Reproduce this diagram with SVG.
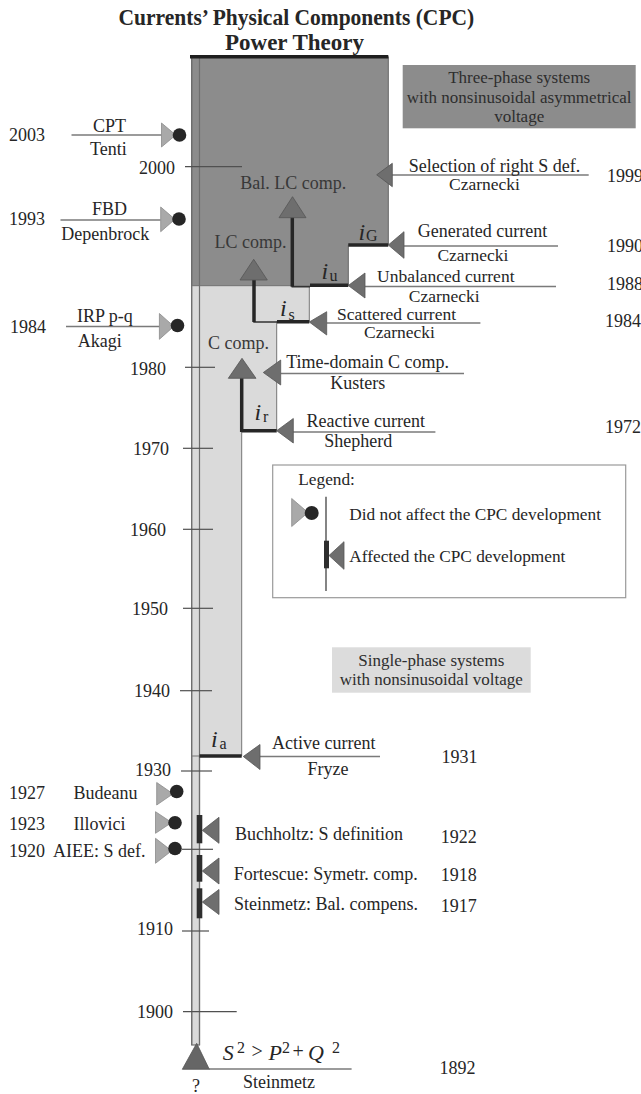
<svg xmlns="http://www.w3.org/2000/svg" width="641" height="1094" viewBox="0 0 641 1094">
<defs>
<style>
text{font-family:"Liberation Serif","Times New Roman",serif;fill:#262626}
.t{font-size:18px}
.c{font-size:17.5px}
.ttl{font-size:23px;font-weight:bold}
.box{font-size:17px;fill:#2e2e2e}
.lg{font-size:17.3px}
.cmp{font-size:18px;fill:#383838}
.i{font-size:24px;font-style:italic}
.sub{font-size:16px}
.it{font-style:italic}
.tk{stroke:#505050;stroke-width:1.2}
.ln{stroke:#7a7a7a;stroke-width:1.5}
.arr{fill:#6e6e6e;stroke:#555;stroke-width:0.8}
.cur{stroke:#262626;stroke-width:3.5;fill:none}
.thin{stroke:#333;stroke-width:1.5;fill:none}
.na{fill:#a9a9a9;stroke:#8a8a8a;stroke-width:0.8}
.dot{fill:#262626}
.bar{fill:#2e2e2e}
</style>
</defs>
<rect width="641" height="1094" fill="#ffffff"/>

<g id="title">
<text class="ttl" x="118.6" y="25" textLength="355.6" lengthAdjust="spacingAndGlyphs">Currents’ Physical Components (CPC)</text>
<text class="ttl" x="294.5" y="50" text-anchor="middle">Power Theory</text>
</g>

<g id="regions">
<rect x="191.7" y="57" width="7.8" height="988" fill="#d9d9d9" stroke="#6e6e6e" stroke-width="1.2"/>
<polygon points="191.7,56.7 388.3,56.7 388.3,245 348.3,245 348.3,285.7 191.7,285.7" fill="#8c8c8c" stroke="#666" stroke-width="1"/>
<polygon points="191.7,285.7 309.3,285.7 309.3,321.7 276.7,321.7 276.7,430.7 241.7,430.7 241.7,756 191.7,756" fill="#dadada" stroke="#777" stroke-width="1"/>
<line x1="191.7" y1="57" x2="191.7" y2="1045" stroke="#6e6e6e" stroke-width="1.2"/>
<line x1="199.5" y1="57" x2="199.5" y2="1045" stroke="#6e6e6e" stroke-width="1.2"/>
<line x1="190" y1="56.7" x2="388.3" y2="56.7" stroke="#1e1e1e" stroke-width="3.5"/>
</g>

<g id="axis">
<line class="tk" x1="185" y1="166.7" x2="242" y2="166.7"/>
<text class="t" x="139" y="174">2000</text>
<line class="tk" x1="185" y1="367.3" x2="215" y2="367.3"/>
<text class="t" x="130" y="375">1980</text>
<line class="tk" x1="183" y1="448.3" x2="213" y2="448.3"/>
<text class="t" x="133" y="455">1970</text>
<line class="tk" x1="183" y1="529.3" x2="213" y2="529.3"/>
<text class="t" x="130" y="536">1960</text>
<line class="tk" x1="183" y1="608.3" x2="213" y2="608.3"/>
<text class="t" x="132" y="615">1950</text>
<line class="tk" x1="180" y1="690.7" x2="212" y2="690.7"/>
<text class="t" x="134" y="697">1940</text>
<line class="tk" x1="181" y1="771" x2="212" y2="771"/>
<text class="t" x="135" y="776">1930</text>
<line class="tk" x1="182" y1="849.3" x2="213" y2="849.3"/>
<line class="tk" x1="182" y1="931" x2="209" y2="931"/>
<text class="t" x="137" y="935">1910</text>
<line class="tk" x1="183" y1="1011.7" x2="236.7" y2="1011.7"/>
<text class="t" x="137" y="1018">1900</text>
</g>

<g id="three-phase-box">
<rect x="402.7" y="65" width="233" height="63.3" fill="#8c8c8c"/>
<text class="box" x="519.2" y="83" text-anchor="middle">Three-phase systems</text>
<text class="box" x="519.2" y="103" text-anchor="middle">with nonsinusoidal asymmetrical</text>
<text class="box" x="519.2" y="122" text-anchor="middle">voltage</text>
</g>

<g id="single-phase-box">
<rect x="332" y="647.3" width="198.7" height="45.4" fill="#dcdcdc"/>
<text class="box" x="431.3" y="666" text-anchor="middle">Single-phase systems</text>
<text class="box" x="431.3" y="685" text-anchor="middle">with nonsinusoidal voltage</text>
</g>

<g id="connectors">
<polyline class="thin" points="292.3,217 292.3,286.7 310,286.7"/>
<polyline class="thin" points="254,280 254,322 277,322"/>
<line class="thin" x1="241.7" y1="378" x2="241.7" y2="430.7"/>
<line x1="292.3" y1="217" x2="292.3" y2="286.7" stroke="#262626" stroke-width="3.5"/>
<line x1="254" y1="280" x2="254" y2="322" stroke="#262626" stroke-width="3.5"/>
<line x1="241.7" y1="378" x2="241.7" y2="432" stroke="#262626" stroke-width="3.5"/>
<line class="cur" x1="348.3" y1="245" x2="388.3" y2="245"/>
<line class="cur" x1="310" y1="285.3" x2="348.3" y2="285.3"/>
<line class="cur" x1="277" y1="321.7" x2="309.3" y2="321.7"/>
<line class="cur" x1="241.7" y1="430.7" x2="276.7" y2="430.7"/>
<line class="cur" x1="199.5" y1="756" x2="241.7" y2="756"/>
<line class="ln" x1="392" y1="175" x2="588.7" y2="175"/>
<line class="ln" x1="404" y1="246" x2="558" y2="246"/>
<line class="ln" x1="365" y1="286.5" x2="556" y2="286.5"/>
<line class="ln" x1="326.7" y1="323" x2="480.4" y2="323"/>
<line class="ln" x1="280.7" y1="373.5" x2="464" y2="373.5"/>
<line class="ln" x1="293" y1="432" x2="435.4" y2="432"/>
<line class="ln" x1="260" y1="756.5" x2="380" y2="756.5"/>
<line class="ln" x1="71.5" y1="135" x2="161.5" y2="135"/>
<line class="ln" x1="60.5" y1="220" x2="160.7" y2="220"/>
<line class="ln" x1="66" y1="326.5" x2="159.4" y2="326.5"/>
<line class="ln" x1="209" y1="1069" x2="351.6" y2="1069"/>
</g>

<g id="bal-lc-comp">
<polygon class="arr" points="279,217.7 306,217.7 292.5,196.7"/>
<text class="cmp" x="293.3" y="189.3" text-anchor="middle">Bal. LC comp.</text>
</g>
<g id="lc-comp">
<polygon class="arr" points="240,280 267.3,280 253.7,259.3"/>
<text class="cmp" x="250.5" y="248.3" text-anchor="middle">LC comp.</text>
</g>
<g id="c-comp">
<polygon class="arr" points="228.3,378.3 256,378.3 242,358.3"/>
<text class="cmp" x="238.6" y="349.3" text-anchor="middle">C comp.</text>
</g>

<g id="iG-label"><text class="i" x="358.5" y="240">i</text><text class="sub" x="366" y="241">G</text></g>
<g id="iu-label"><text class="i" x="321.5" y="278.5">i</text><text class="sub" x="329.5" y="280.5">u</text></g>
<g id="is-label"><text class="i" x="280" y="315.5">i</text><text class="sub" x="288.5" y="320">s</text></g>
<g id="ir-label"><text class="i" x="254.5" y="420">i</text><text class="sub" x="263" y="421.7">r</text></g>
<g id="ia-label"><text class="i" x="211" y="746.5">i</text><text class="sub" x="219.5" y="748.5">a</text></g>

<g id="selection">
<polygon class="arr" points="392.3,163.3 392.3,186.7 376.7,174.8"/>
<text class="t" x="408.8" y="171.7">Selection of right S def.</text>
<text class="c" x="449" y="190">Czarnecki</text>
<text class="t" x="607" y="181.7">1999</text>
</g>
<g id="generated">
<polygon class="arr" points="404,231.7 404,258.3 388.3,245"/>
<text class="t" x="417.8" y="236.7">Generated current</text>
<text class="c" x="437.4" y="261">Czarnecki</text>
<text class="t" x="607" y="251.7">1990</text>
</g>
<g id="unbalanced">
<polygon class="arr" points="365,273 365,298 348.3,285.5"/>
<text class="c" x="377" y="281.5">Unbalanced current</text>
<text class="c" x="408.8" y="301.5">Czarnecki</text>
<text class="t" x="607" y="290">1988</text>
</g>
<g id="scattered">
<polygon class="arr" points="326.7,311.7 326.7,335 309.3,322"/>
<text class="c" x="337" y="320">Scattered current</text>
<text class="c" x="364" y="338.3">Czarnecki</text>
<text class="t" x="605" y="326.7">1984</text>
</g>
<g id="time-domain">
<polygon class="arr" points="280.7,360 280.7,385 263.3,372.5"/>
<text class="t" x="286.2" y="368.3">Time-domain C comp.</text>
<text class="t" x="330.3" y="389">Kusters</text>
</g>
<g id="reactive">
<polygon class="arr" points="293.3,418.5 293.3,443 276.7,430.7"/>
<text class="t" x="306.6" y="426.7">Reactive current</text>
<text class="t" x="324.2" y="446.7">Shepherd</text>
<text class="t" x="605" y="433.3">1972</text>
</g>
<g id="active">
<polygon class="arr" points="260,744.5 260,769.5 243.3,756.5"/>
<text class="t" x="272" y="749">Active current</text>
<text class="t" x="307.4" y="775">Fryze</text>
<text class="t" x="441.5" y="763.3">1931</text>
</g>

<g id="cpt">
<polygon class="na" points="161.5,123 161.5,147 175.8,135"/>
<circle class="dot" cx="179.5" cy="135" r="6.8"/>
<text class="t" x="93" y="132">CPT</text>
<text class="t" x="90" y="155">Tenti</text>
<text class="t" x="9" y="141">2003</text>
</g>
<g id="fbd">
<polygon class="na" points="160.7,207 160.7,231.7 175,219.3"/>
<circle class="dot" cx="179" cy="219" r="6.8"/>
<text class="t" x="92" y="215">FBD</text>
<text class="t" x="61.3" y="240">Depenbrock</text>
<text class="t" x="9" y="225">1993</text>
</g>
<g id="irp">
<polygon class="na" points="159.4,313.5 159.4,339.3 173.8,326.4"/>
<circle class="dot" cx="177.5" cy="325.5" r="6.8"/>
<text class="t" x="77" y="321.7">IRP p-q</text>
<text class="t" x="77.7" y="346.7">Akagi</text>
<text class="t" x="10" y="333.3">1984</text>
</g>
<g id="budeanu">
<polygon class="na" points="156.7,782.5 156.7,805 173,793.8"/>
<circle class="dot" cx="176.7" cy="791.5" r="6.8"/>
<text class="t" x="73.6" y="799">Budeanu</text>
<text class="t" x="9" y="799">1927</text>
</g>
<g id="illovici">
<polygon class="na" points="155.5,811.7 155.5,833.3 171.7,822.5"/>
<circle class="dot" cx="175" cy="822.7" r="6.8"/>
<text class="t" x="73.6" y="830">Illovici</text>
<text class="t" x="9" y="830">1923</text>
</g>
<g id="aiee">
<polygon class="na" points="155.5,838.3 155.5,863.3 171.7,850.8"/>
<circle class="dot" cx="175" cy="848.5" r="6.8"/>
<text class="t" x="53" y="857">AIEE: S def.</text>
<text class="t" x="9" y="857">1920</text>
</g>

<g id="buchholtz">
<rect class="bar" x="196.7" y="815" width="5.6" height="28.3"/>
<polygon class="arr" points="219,817.3 219,843.3 202.3,830.3"/>
<text class="t" x="235" y="840">Buchholtz:  S definition</text>
<text class="t" x="440.7" y="842.7">1922</text>
</g>
<g id="fortescue">
<rect class="bar" x="196.7" y="855" width="5.6" height="26.7"/>
<polygon class="arr" points="219,858 219,884 202.3,871"/>
<text class="t" x="233.8" y="880">Fortescue:  Symetr. comp.</text>
<text class="t" x="440.7" y="880.7">1918</text>
</g>
<g id="steinmetz-bal">
<rect class="bar" x="196.7" y="888.3" width="5.6" height="30"/>
<polygon class="arr" points="219,889.5 219,914.5 202.3,902"/>
<text class="t" x="234" y="910">Steinmetz: Bal. compens.</text>
<text class="t" x="440.7" y="911.7">1917</text>
</g>

<g id="steinmetz-1892">
<polygon points="182.3,1069.3 209.3,1069.3 196.7,1043.3" fill="#666" stroke="#555" stroke-width="0.8"/>
<text class="t" x="222.8" y="1060"><tspan class="it" font-size="22">S</tspan><tspan font-size="16" x="237" dy="-7">2</tspan><tspan font-size="20" x="251.5" dy="5">&gt;</tspan><tspan class="it" font-size="22" x="268.5" dy="2">P</tspan><tspan font-size="16" x="282" dy="-7">2</tspan><tspan font-size="20" x="292.5" dy="5">+</tspan><tspan class="it" font-size="22" x="308" dy="2">Q</tspan><tspan font-size="16" x="332" dy="-7">2</tspan></text>
<text class="t" x="192" y="1091.7">?</text>
<text class="t" x="243" y="1088.3" font-size="17">Steinmetz</text>
<text class="t" x="439.5" y="1074">1892</text>
</g>

<g id="legend">
<rect x="272.7" y="465" width="353" height="132.7" fill="#ffffff" stroke="#9a9a9a" stroke-width="1.2"/>
<text class="lg" x="298.3" y="485">Legend:</text>
<line x1="326" y1="496.7" x2="326" y2="591" stroke="#333" stroke-width="1.2"/>
<polygon class="na" points="291.7,498.5 291.7,526.5 308,512.5"/>
<circle class="dot" cx="311.7" cy="513" r="7"/>
<text class="lg" x="349.3" y="520">Did not affect the CPC development</text>
<rect class="bar" x="324" y="540.7" width="5" height="27.6"/>
<polygon class="arr" points="344,541.7 344,569.3 329,555.5"/>
<text class="lg" x="349.3" y="561.7">Affected the CPC development</text>
</g>
</svg>
